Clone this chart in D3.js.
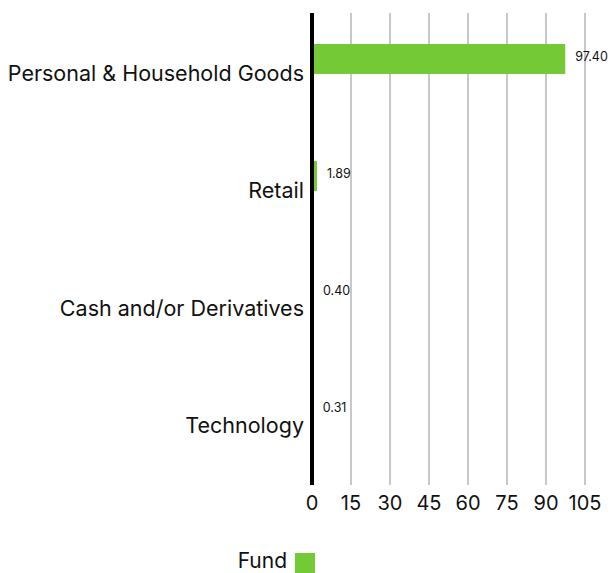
<!DOCTYPE html>
<html>
<head>
<meta charset="utf-8">
<script src="https://cdn.jsdelivr.net/npm/d3@7"></script>
<style>
  body { margin: 0; background: #fff; }
  text { font-family: Inter, "Open Sans", sans-serif; fill: #111; }
</style>
</head>
<body>
<div id="chart"></div>
<script>
// chart data
var categories = ["Personal & Household Goods", "Retail", "Cash and/or Derivatives", "Technology"];
var fundValues = [97.40, 1.89, 0.40, 0.31];
var tickValues = [0, 15, 30, 45, 60, 75, 90, 105];
var seriesName = "Fund";

var data = categories.map(function(c, i) {
  return { name: c, value: fundValues[i] };
});

var width = 614, height = 573;
var green = "#74c936";

var svg = d3.select("#chart")
  .append("svg")
  .attr("width", width)
  .attr("height", height);

// scales
var x = d3.scaleLinear().domain([0, 105]).range([312, 585]);
var y = d3.scaleBand()
  .domain(categories)
  .range([44, 425])
  .paddingInner(0.744)
  .paddingOuter(0);

// gridlines
svg.append("g")
  .selectAll("line")
  .data(tickValues.slice(1))
  .enter()
  .append("line")
  .attr("x1", function(d) { return x(d); })
  .attr("x2", function(d) { return x(d); })
  .attr("y1", 13)
  .attr("y2", 485)
  .attr("stroke", "#c8c8c8")
  .attr("stroke-width", 2);

// bars
svg.append("g")
  .selectAll("rect")
  .data(data)
  .enter()
  .append("rect")
  .attr("x", x(0))
  .attr("y", function(d) { return y(d.name); })
  .attr("width", function(d) { return x(d.value) - x(0); })
  .attr("height", y.bandwidth())
  .attr("fill", green);

// value labels
svg.append("g")
  .selectAll("text")
  .data(data)
  .enter()
  .append("text")
  .attr("x", function(d) { return Math.max(x(d.value), x(0)) + 10; })
  .attr("y", function(d) { return y(d.name) + y.bandwidth() / 2 - 2; })
  .attr("dy", "0.35em")
  .style("font-size", "12.5px")
  .text(function(d) { return d.value.toFixed(2); });

// category labels
svg.append("g")
  .selectAll("text")
  .data(data)
  .enter()
  .append("text")
  .attr("x", 304)
  .attr("y", function(d) { return y(d.name) + y.bandwidth(); })
  .attr("dy", "0.35em")
  .attr("text-anchor", "end")
  .style("font-size", "21.5px")
  .text(function(d) { return d.name; });

// vertical axis line
svg.append("line")
  .attr("x1", x(0))
  .attr("x2", x(0))
  .attr("y1", 13)
  .attr("y2", 485)
  .attr("stroke", "#000")
  .attr("stroke-width", 4);

// x tick labels
svg.append("g")
  .selectAll("text")
  .data(tickValues)
  .enter()
  .append("text")
  .attr("x", function(d) { return x(d); })
  .attr("y", 510)
  .attr("text-anchor", "middle")
  .style("font-size", "20px")
  .text(function(d) { return d; });

// legend
var legend = svg.append("g");
legend.append("text")
  .attr("x", 287)
  .attr("y", 568)
  .attr("text-anchor", "end")
  .style("font-size", "21px")
  .text(seriesName);
legend.append("rect")
  .attr("x", 295)
  .attr("y", 553)
  .attr("width", 20)
  .attr("height", 20)
  .attr("fill", green);
</script>
</body>
</html>
